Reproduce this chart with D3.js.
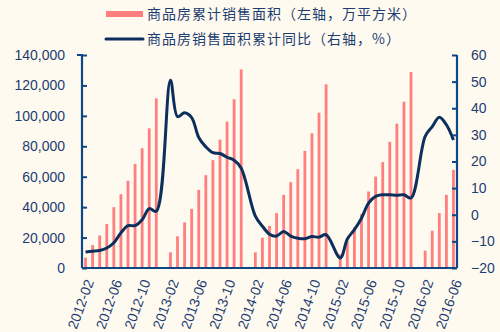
<!DOCTYPE html>
<html><head><meta charset="utf-8">
<script src="https://cdn.jsdelivr.net/npm/d3@7"></script>
<style>
html,body{margin:0;padding:0;background:#FFFAF0;}
svg{display:block;}
</style></head>
<body>
<svg id="c" width="500" height="332"></svg>
<script>
const months = [
 "2012-02","2012-03","2012-04","2012-05","2012-06","2012-07","2012-08","2012-09","2012-10","2012-11","2012-12",
 "2013-01","2013-02","2013-03","2013-04","2013-05","2013-06","2013-07","2013-08","2013-09","2013-10","2013-11","2013-12",
 "2014-01","2014-02","2014-03","2014-04","2014-05","2014-06","2014-07","2014-08","2014-09","2014-10","2014-11","2014-12",
 "2015-01","2015-02","2015-03","2015-04","2015-05","2015-06","2015-07","2015-08","2015-09","2015-10","2015-11","2015-12",
 "2016-01","2016-02","2016-03","2016-04","2016-05","2016-06"];
const salesArea = [
 6800,15100,21400,28900,40000,48500,57300,68400,78700,91800,111500,
 null,10300,20800,30000,38900,51400,61000,70900,84400,96200,110900,130500,
 null,10300,19900,27600,36100,48100,56400,64900,77000,88600,102100,120700,
 null,9000,18000,26800,35500,50300,60100,69600,82900,94900,109300,128800,
 null,11400,24500,36100,48100,64500];
const yoy = [
 -14,-13.7,-13.4,-12.5,-10.5,-6.8,-4.1,-4.1,-1.9,2.3,1.3,
 null,50.5,36.9,38.3,36.5,29,25.5,23.3,23,21.6,20.5,17.5,
 null,-0.5,-4.3,-7.3,-8,-6.3,-8,-8.8,-9,-8.2,-8.4,-7.5,
 null,-16.2,-9.1,-5.6,-1.3,4.4,6.9,7.5,7.5,7.3,7.5,6.3,
 null,29.4,33.1,36.6,33.8,28.1];
const xTickLabels = ["2012-02","2012-06","2012-10","2013-02","2013-06","2013-10","2014-02","2014-06","2014-10","2015-02","2015-06","2015-10","2016-02","2016-06"];
const leftTicks = [0,20000,40000,60000,80000,100000,120000,140000];
const rightTicks = [-20,-10,0,10,20,30,40,50,60];
const legendLabels = ["商品房累计销售面积（左轴，万平方米）","商品房销售面积累计同比（右轴，%）"];

const W=500,H=332, L=82, R=457, T=55, B=268;
const barColor="#FF7F7F", lineColor="#0C2F5C", axisColor="#0D4785", textColor="#1C3D70";
const svg=d3.select("#c");
svg.append("rect").attr("width",W).attr("height",H).attr("fill","#FFFAF0");

const x=d3.scaleBand().domain(months).range([L,R]).padding(0);
const yL=d3.scaleLinear().domain([0,140000]).range([B,T]);
const yR=d3.scaleLinear().domain([-20,60]).range([B,T]);
const bw=2.8;

const data=months.map((m,i)=>({m,v:salesArea[i],r:yoy[i]}));

// bars
svg.append("g").selectAll("rect").data(data.filter(d=>d.v!=null)).join("rect")
  .attr("x",d=>x(d.m)+x.bandwidth()/2-bw/2).attr("width",bw)
  .attr("y",d=>yL(d.v)).attr("height",d=>B-yL(d.v))
  .attr("fill",barColor);

// line
const line=d3.line().x(d=>x(d.m)+x.bandwidth()/2).y(d=>yR(d.r)).curve(d3.curveCatmullRom.alpha(0.5));
svg.append("path").datum(data.filter(d=>d.r!=null)).attr("d",line)
  .attr("fill","none").attr("stroke",lineColor).attr("stroke-width",3).attr("stroke-linejoin","round");

// axes
const fnt="'Liberation Sans', Arial, sans-serif";
const gl=svg.append("g").attr("transform",`translate(${L},0)`)
  .call(d3.axisLeft(yL).tickValues(leftTicks).tickSize(-5).tickPadding(17).tickFormat(d3.format(",")));
const gr=svg.append("g").attr("transform",`translate(${R},0)`)
  .call(d3.axisRight(yR).tickValues(rightTicks).tickSize(-5).tickPadding(14).tickFormat(d3.format("d")));
const gb=svg.append("g").attr("transform",`translate(0,${B})`)
  .call(d3.axisBottom(x).tickValues(xTickLabels).tickSize(0).tickFormat(d=>d));
[gl,gr,gb].forEach(g=>{
  g.select(".domain").attr("stroke",axisColor).attr("stroke-width",2.2);
  g.selectAll(".tick line").attr("stroke",axisColor).attr("stroke-width",2);
  g.selectAll("text").attr("fill",textColor).style("font-family",fnt).style("font-size","14px");
});
gl.select(".domain").attr("d",`M-5,${T}H0V${B}H-5`.replace(/H-5/g,"H0"));
gr.select(".domain").attr("d",`M0,${T}V${B}`);
gb.select(".domain").attr("d",`M${L},0H${R}`);
gb.selectAll(".tick text")
  .attr("text-anchor","end").attr("dy","0.35em").attr("y",0)
  .attr("transform","translate(4,12) rotate(-70)");

// legend
const lg=svg.append("g");
lg.append("rect").attr("x",106).attr("y",11).attr("width",37).attr("height",6).attr("fill",barColor);
lg.append("line").attr("x1",106).attr("x2",143).attr("y1",39).attr("y2",39)
  .attr("stroke",lineColor).attr("stroke-width",3).attr("stroke-linecap","round");
lg.selectAll("text").data(legendLabels).join("text")
  .attr("x",147).attr("y",(d,i)=>14+i*25).attr("dy","0.35em")
  .attr("fill",textColor).style("font-family","'Noto Sans CJK SC', sans-serif")
  .style("font-size","14px").style("letter-spacing","1px").text(d=>d);
</script>
</body></html>
